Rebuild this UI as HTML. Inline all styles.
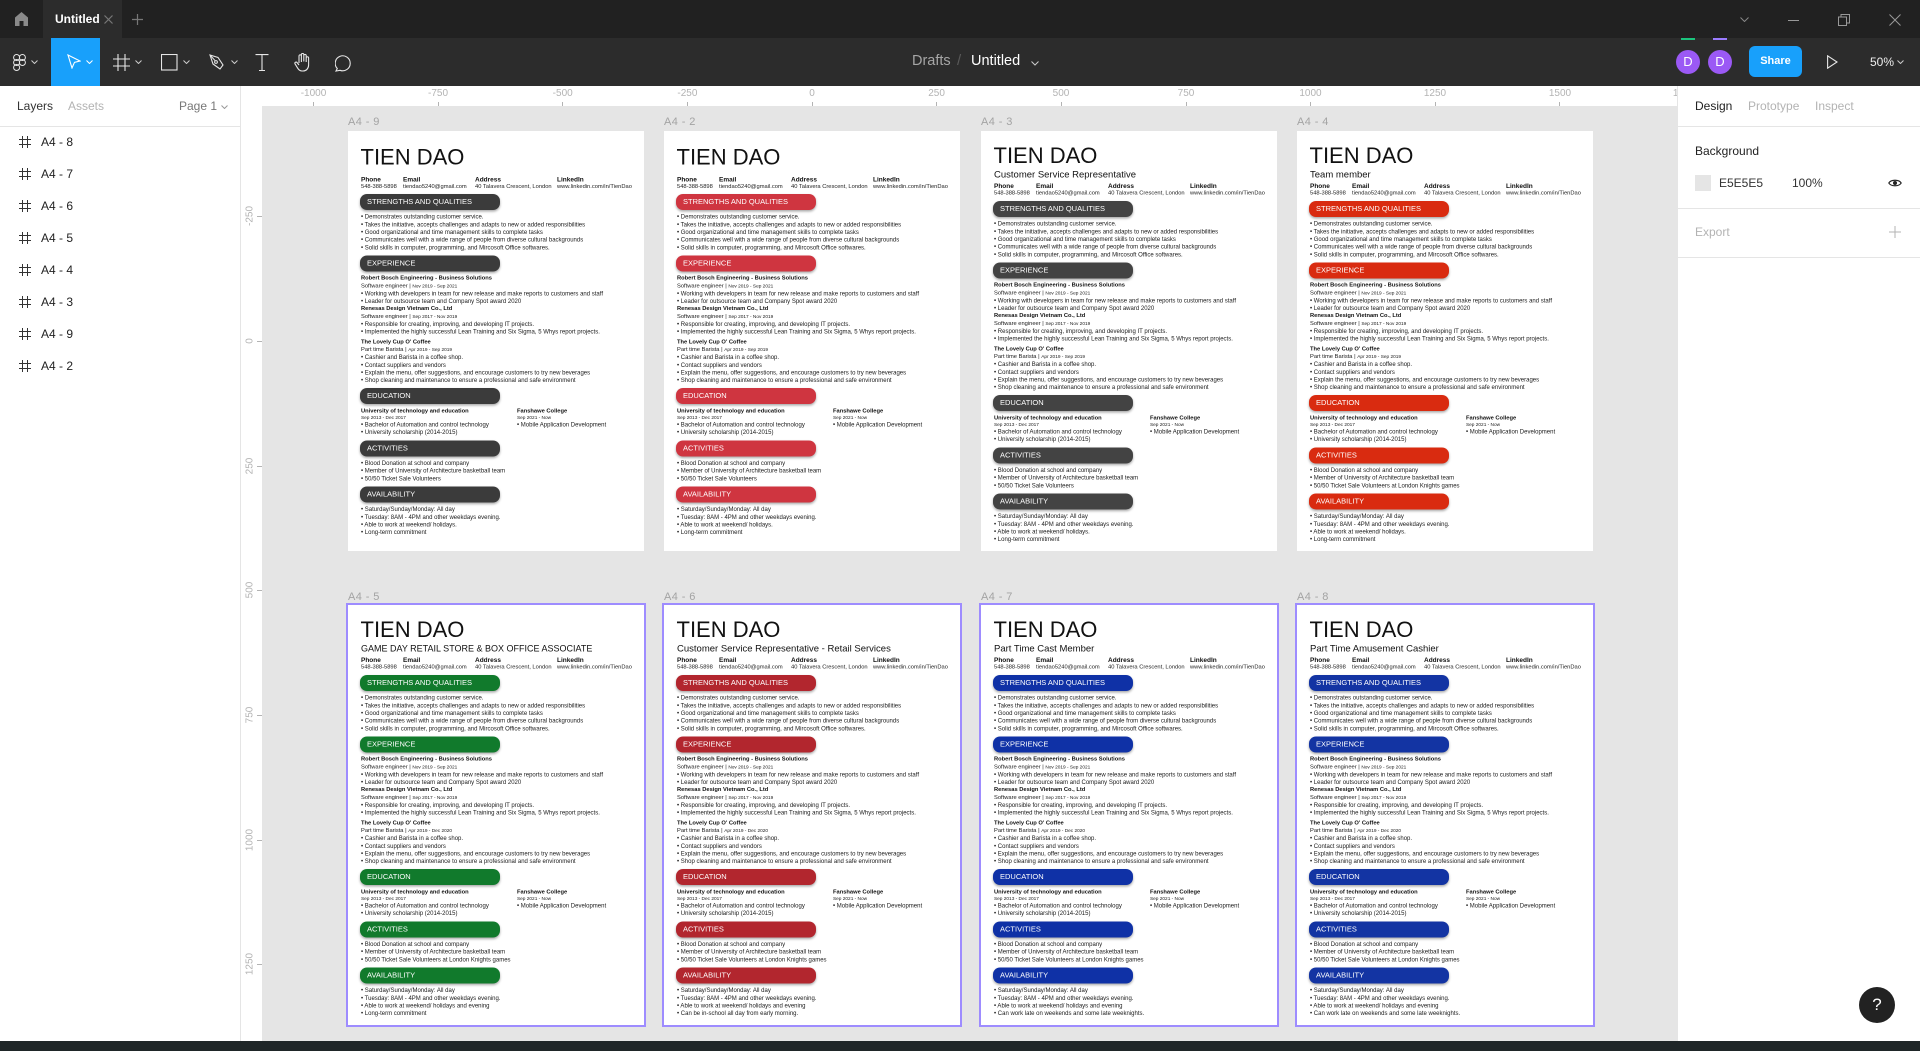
<!DOCTYPE html>
<html><head><meta charset="utf-8"><style>
*{margin:0;padding:0;box-sizing:border-box}
body{width:1920px;height:1051px;overflow:hidden;position:relative;background:#e5e5e5;font-family:"Liberation Sans",Arial,sans-serif}
.a{position:absolute}
.nw{white-space:nowrap}
#tabbar{left:0;top:0;width:1920px;height:38px;background:#212121}
#toolbar{left:0;top:38px;width:1920px;height:48px;background:#2c2c2c}
#left{left:0;top:86px;width:241px;height:955px;background:#fff;border-right:1px solid #e5e5e5}
#right{left:1677px;top:86px;width:243px;height:955px;background:#fff;border-left:1px solid #e5e5e5}
#hr{left:241px;top:86px;width:1436px;height:20px;background:#fff;overflow:hidden}
#vr{left:241px;top:86px;width:21px;height:955px;background:#fff;overflow:hidden}
.hl{position:absolute;top:2px;font-size:10px;color:#b3b3b3;transform:translateX(-50%);white-space:nowrap}
.ht{position:absolute;top:16px;width:1px;height:4px;background:#b3b3b3}
.vl{position:absolute;left:8.5px;font-size:10px;color:#b3b3b3;transform:translate(-50%,-50%) rotate(-90deg);white-space:nowrap}
.vt{position:absolute;left:16px;width:5px;height:1px;background:#b3b3b3}
.lay{position:absolute;left:0;width:240px;height:20px}
.lay svg{position:absolute;left:19px;top:4px}
.lay span{position:absolute;left:41px;top:3px;font-size:12px;color:#222}
.flab{position:absolute;font-size:11px;color:#a3a3a3;letter-spacing:.4px;white-space:nowrap;line-height:14px}
/* resume */
.fr{position:absolute;width:296px;height:420px;background:#fff;overflow:hidden}
.sel{outline:2px solid #9e8cff}
.in{position:absolute;left:0;top:0;width:592px;height:840px;transform:scale(.5);transform-origin:0 0;color:#1a1a1a}
.t{position:absolute;left:25px;top:30.7px;font-size:44px;line-height:44px;color:#111;white-space:nowrap}
.sb .t{top:27.7px}
.st{position:absolute;left:26px;top:78px;font-size:19px;line-height:19px;white-space:nowrap;color:#111}
.c{position:absolute;left:0;top:88.5px;width:592px}
.sb .c{top:101.5px}
.c div{position:absolute;top:0;font-size:11.5px;line-height:15px;white-space:nowrap;color:#222}
.c b{display:block;font-size:13px;color:#111}
.bd{position:absolute;left:26px;top:126px;width:566px}
.sb .bd{top:140px}
.p{margin:8px 0 6.4px -2px;width:280px;height:32px;border-radius:14px;background:var(--c);color:#fff;font-size:15px;line-height:32px;padding-left:14px;box-shadow:0 3px 5px rgba(0,0,0,.35);white-space:nowrap}
.bd>.p:first-child{margin-top:0}
.l{font-size:12px;line-height:15.3px;white-space:nowrap}
.h{font-size:11.5px;font-weight:bold;line-height:15.3px;white-space:nowrap;color:#111}
.j{font-size:11.5px;line-height:15.3px;white-space:nowrap}
.j small{font-size:9.5px}
.d{font-size:9.5px;line-height:12px;white-space:nowrap}
.ed{display:flex}
.ed>div:first-child{width:312px}
.mt{margin-top:5px}
</style></head><body>

<!-- tab bar -->
<div id="tabbar" class="a">
  <svg class="a" style="left:15px;top:12px" width="13" height="14"><path d="M6.5 0 L13 5.5 V14 H8.5 V9 H4.5 V14 H0 V5.5 Z" fill="#8a8a8a"/></svg>
  <div class="a" style="left:43px;top:0;width:79px;height:38px;background:#2c2c2c"></div>
  <div class="a nw" style="left:55px;top:12px;font-size:12px;font-weight:bold;color:#fff">Untitled</div>
  <svg class="a" style="left:104px;top:15px" width="9" height="9"><path d="M0.5 0.5L8.5 8.5M8.5 0.5L0.5 8.5" stroke="#777" stroke-width="1.2"/></svg>
  <svg class="a" style="left:132px;top:14px" width="11" height="11"><path d="M5.5 0V11M0 5.5H11" stroke="#777" stroke-width="1.2"/></svg>
  <svg class="a" style="left:1740px;top:17px" width="9" height="5"><path d="M0.5 0.5L4.5 4.5L8.5 0.5" stroke="#888" fill="none"/></svg>
  <div class="a" style="left:1788px;top:20px;width:11px;height:1px;background:#999"></div>
  <svg class="a" style="left:1838px;top:14px" width="12" height="12"><rect x="0.5" y="3" width="8" height="8.5" fill="none" stroke="#999"/><path d="M3 3V0.5H11.5V9H8.5" fill="none" stroke="#999"/></svg>
  <svg class="a" style="left:1889px;top:14px" width="12" height="12"><path d="M0.5 0.5L11.5 11.5M11.5 0.5L0.5 11.5" stroke="#999"/></svg>
</div>

<!-- toolbar -->
<div id="toolbar" class="a">
  <svg class="a" style="left:13px;top:16px" width="13" height="17"><g fill="none" stroke="#e6e6e6" stroke-width="1"><circle cx="3.6" cy="3.5" r="3"/><circle cx="9.4" cy="3.5" r="3"/><circle cx="3.6" cy="8.5" r="3"/><circle cx="9.4" cy="8.5" r="3"/><circle cx="3.6" cy="13.5" r="3"/></g></svg>
  <svg class="a" style="left:31px;top:22px" width="7" height="4"><path d="M0.5 0.5L3.5 3.5L6.5 0.5" stroke="#ccc" fill="none"/></svg>
  <div class="a" style="left:51px;top:0;width:49px;height:48px;background:#18a0fb"></div>
  <svg class="a" style="left:67px;top:16px" width="14" height="15"><path d="M1 1L13 7L7.5 8.3L5 14Z" fill="none" stroke="#fff" stroke-width="1.1"/></svg>
  <svg class="a" style="left:86px;top:22px" width="7" height="4"><path d="M0.5 0.5L3.5 3.5L6.5 0.5" stroke="#fff" fill="none"/></svg>
  <svg class="a" style="left:113px;top:16px" width="17" height="17"><path d="M5 0V17M12 0V17M0 5H17M0 12H17" stroke="#e6e6e6" stroke-width="1.1"/></svg>
  <svg class="a" style="left:135px;top:22px" width="7" height="4"><path d="M0.5 0.5L3.5 3.5L6.5 0.5" stroke="#ccc" fill="none"/></svg>
  <svg class="a" style="left:161px;top:16px" width="17" height="17"><rect x="0.5" y="0.5" width="15.5" height="15.5" fill="none" stroke="#e6e6e6" stroke-width="1.1"/></svg>
  <svg class="a" style="left:183px;top:22px" width="7" height="4"><path d="M0.5 0.5L3.5 3.5L6.5 0.5" stroke="#ccc" fill="none"/></svg>
  <svg class="a" style="left:209px;top:16px" width="16" height="17"><path d="M1 1L9 3.5L14 11L11 15L4 10Z" fill="none" stroke="#e6e6e6" stroke-width="1.1"/><circle cx="7" cy="8" r="1.4" fill="none" stroke="#e6e6e6"/><path d="M1 1L6 6.6" stroke="#e6e6e6"/></svg>
  <svg class="a" style="left:231px;top:22px" width="7" height="4"><path d="M0.5 0.5L3.5 3.5L6.5 0.5" stroke="#ccc" fill="none"/></svg>
  <svg class="a" style="left:255px;top:16px" width="14" height="17"><path d="M0.5 0.6H13.5M7 0.6V16.5M4 16.5H10" stroke="#e6e6e6" stroke-width="1.1" fill="none"/></svg>
  <svg class="a" style="left:294px;top:15px" width="18" height="19"><path d="M5 10V3a1.2 1.2 0 0 1 2.4 0V9M7.4 8.5V1.6a1.2 1.2 0 0 1 2.4 0V8.5M9.8 8.5V2.6a1.2 1.2 0 0 1 2.4 0V9M12.2 9V5a1.2 1.2 0 0 1 2.4 0v7c0 3.5-2.4 6-5.6 6H8c-2 0-3.2-1-4.3-2.8L1 10.8a1.2 1.2 0 0 1 2-1.3L5 12" stroke="#e6e6e6" fill="none" stroke-width="1.1"/></svg>
  <svg class="a" style="left:335px;top:16px" width="18" height="18"><path d="M2.3 14.5A7.5 7.5 0 1 1 5 16.3L1 17Z" fill="none" stroke="#e6e6e6" stroke-width="1.1"/></svg>

  <div class="a nw" style="left:912px;top:15px;font-size:14.5px;color:#a6a6a6">Drafts</div>
  <div class="a nw" style="left:957px;top:14px;font-size:15px;color:#5a5a5a">/</div>
  <div class="a nw" style="left:971px;top:15px;font-size:14.5px;color:#fff">Untitled</div>
  <svg class="a" style="left:1031px;top:23px" width="8" height="5"><path d="M0.5 0.5L4 4L7.5 0.5" stroke="#ccc" fill="none"/></svg>

  <div class="a" style="left:1681px;top:0;width:14px;height:2px;background:#1bc47d"></div>
  <div class="a" style="left:1713px;top:0;width:14px;height:2px;background:#9b7cff"></div>
  <div class="a" style="left:1676px;top:11.5px;width:24px;height:24px;border-radius:50%;background:#9b59f5;color:#fff;font-size:13px;line-height:24px;text-align:center">D</div>
  <div class="a" style="left:1708px;top:11.5px;width:24px;height:24px;border-radius:50%;background:#9b59f5;color:#fff;font-size:13px;line-height:24px;text-align:center">D</div>
  <div class="a" style="left:1749px;top:8px;width:53px;height:31px;border-radius:6px;background:#18a0fb;color:#fff;font-size:11px;font-weight:bold;line-height:31px;text-align:center">Share</div>
  <svg class="a" style="left:1827px;top:17px" width="11" height="14"><path d="M0.6 0.8L10 7L0.6 13.2Z" fill="none" stroke="#e6e6e6" stroke-width="1.1"/></svg>
  <div class="a nw" style="left:1870px;top:17px;font-size:12px;color:#eee">50%</div>
  <svg class="a" style="left:1897px;top:22px" width="7" height="4"><path d="M0.5 0.5L3.5 3.5L6.5 0.5" stroke="#ccc" fill="none"/></svg>
</div>

<!-- left panel -->
<div id="left" class="a">
  <div class="a nw" style="left:17px;top:13px;font-size:12px;color:#333">Layers</div>
  <div class="a nw" style="left:68px;top:13px;font-size:12px;color:#b3b3b3">Assets</div>
  <div class="a nw" style="left:179px;top:13px;font-size:12px;color:#777">Page 1</div>
  <svg class="a" style="left:221px;top:19px" width="7" height="4"><path d="M0.5 0.5L3.5 3.5L6.5 0.5" stroke="#999" fill="none"/></svg>
  <div class="a" style="left:0;top:40px;width:240px;height:1px;background:#e5e5e5"></div>
</div>
<div class="a" style="left:0;top:0">
  <div class="lay" style="top:132px"><svg width="12" height="12"><path d="M3.5 0V12M8.5 0V12M0 3.5H12M0 8.5H12" stroke="#333"/></svg><span>A4 - 8</span></div>
  <div class="lay" style="top:164px"><svg width="12" height="12"><path d="M3.5 0V12M8.5 0V12M0 3.5H12M0 8.5H12" stroke="#333"/></svg><span>A4 - 7</span></div>
  <div class="lay" style="top:196px"><svg width="12" height="12"><path d="M3.5 0V12M8.5 0V12M0 3.5H12M0 8.5H12" stroke="#333"/></svg><span>A4 - 6</span></div>
  <div class="lay" style="top:228px"><svg width="12" height="12"><path d="M3.5 0V12M8.5 0V12M0 3.5H12M0 8.5H12" stroke="#333"/></svg><span>A4 - 5</span></div>
  <div class="lay" style="top:260px"><svg width="12" height="12"><path d="M3.5 0V12M8.5 0V12M0 3.5H12M0 8.5H12" stroke="#333"/></svg><span>A4 - 4</span></div>
  <div class="lay" style="top:292px"><svg width="12" height="12"><path d="M3.5 0V12M8.5 0V12M0 3.5H12M0 8.5H12" stroke="#333"/></svg><span>A4 - 3</span></div>
  <div class="lay" style="top:324px"><svg width="12" height="12"><path d="M3.5 0V12M8.5 0V12M0 3.5H12M0 8.5H12" stroke="#333"/></svg><span>A4 - 9</span></div>
  <div class="lay" style="top:356px"><svg width="12" height="12"><path d="M3.5 0V12M8.5 0V12M0 3.5H12M0 8.5H12" stroke="#333"/></svg><span>A4 - 2</span></div>
</div>

<!-- rulers -->
<div id="vr" class="a">
  <span class="vl" style="top:130.4px">-250</span><div class="vt" style="top:130px"></div>
  <span class="vl" style="top:255px">0</span><div class="vt" style="top:255px"></div>
  <span class="vl" style="top:379.6px">250</span><div class="vt" style="top:379.5px"></div>
  <span class="vl" style="top:504px">500</span><div class="vt" style="top:504px"></div>
  <span class="vl" style="top:629px">750</span><div class="vt" style="top:629px"></div>
  <span class="vl" style="top:753.5px">1000</span><div class="vt" style="top:753.5px"></div>
  <span class="vl" style="top:878px">1250</span><div class="vt" style="top:878px"></div>
</div>
<div id="hr" class="a">
  <span class="hl" style="left:72.5px">-1000</span><div class="ht" style="left:72px"></div>
  <span class="hl" style="left:197px">-750</span><div class="ht" style="left:197px"></div>
  <span class="hl" style="left:321.7px">-500</span><div class="ht" style="left:321px"></div>
  <span class="hl" style="left:446.4px">-250</span><div class="ht" style="left:446px"></div>
  <span class="hl" style="left:571px">0</span><div class="ht" style="left:571px"></div>
  <span class="hl" style="left:695.6px">250</span><div class="ht" style="left:695px"></div>
  <span class="hl" style="left:820px">500</span><div class="ht" style="left:820px"></div>
  <span class="hl" style="left:945px">750</span><div class="ht" style="left:945px"></div>
  <span class="hl" style="left:1069.5px">1000</span><div class="ht" style="left:1069px"></div>
  <span class="hl" style="left:1194px">1250</span><div class="ht" style="left:1194px"></div>
  <span class="hl" style="left:1319px">1500</span><div class="ht" style="left:1318px"></div>
  <span class="hl" style="left:1443px">1750</span>
</div>

<!-- frame labels -->
<div class="flab" style="left:348px;top:115px">A4 - 9</div>
<div class="flab" style="left:664px;top:115px">A4 - 2</div>
<div class="flab" style="left:981px;top:115px">A4 - 3</div>
<div class="flab" style="left:1297px;top:115px">A4 - 4</div>
<div class="flab" style="left:348px;top:590px">A4 - 5</div>
<div class="flab" style="left:664px;top:590px">A4 - 6</div>
<div class="flab" style="left:981px;top:590px">A4 - 7</div>
<div class="flab" style="left:1297px;top:590px">A4 - 8</div>

<!-- A4-9 -->
<div class="fr" style="left:348px;top:131px;--c:#3b3b3b"><div class="in">
<div class="t">TIEN DAO</div>
<div class="c"><div style="left:26px"><b>Phone</b>548-388-5898</div><div style="left:110px"><b>Email</b>tiendao5240@gmail.com</div><div style="left:254px"><b>Address</b>40 Talavera Crescent, London</div><div style="left:418px"><b>LinkedIn</b>www.linkedin.com/in/TienDao</div></div>
<div class="bd">
<div class="p">STRENGTHS AND QUALITIES</div>
<div class="l">• Demonstrates outstanding customer service.</div>
<div class="l">• Takes the initiative, accepts challenges and adapts to new or added responsibilities</div>
<div class="l">• Good organizational and time management skills to complete tasks</div>
<div class="l">• Communicates well with a wide range of people from diverse cultural backgrounds</div>
<div class="l">• Solid skills in computer, programming, and Mircosoft Office softwares.</div>
<div class="p">EXPERIENCE</div>
<div class="h">Robert Bosch Engineering - Business Solutions</div>
<div class="j">Software engineer | <small>Nov 2019 - Sep 2021</small></div>
<div class="l">• Working with developers in team for new release and make reports to customers and staff</div>
<div class="l">• Leader for outsource team and Company Spot award 2020</div>
<div class="h">Renesas Design Vietnam Co., Ltd</div>
<div class="j">Software engineer | <small>Sep 2017 - Nov 2019</small></div>
<div class="l">• Responsible for creating, improving, and developing IT projects.</div>
<div class="l">• Implemented the highly successful Lean Training and Six Sigma, 5 Whys report projects.</div>
<div class="h mt">The Lovely Cup O' Coffee</div>
<div class="j">Part time Barista | <small>Apr 2019 - Sep 2019</small></div>
<div class="l">• Cashier and Barista in a coffee shop.</div>
<div class="l">• Contact suppliers and vendors</div>
<div class="l">• Explain the menu, offer suggestions, and encourage customers to try new beverages</div>
<div class="l">• Shop cleaning and maintenance to ensure a professional and safe environment</div>
<div class="p">EDUCATION</div>
<div class="ed"><div><div class="h">University of technology and education</div><div class="d">Sep 2013 - Dec 2017</div><div class="l">• Bachelor of Automation and control technology</div><div class="l">• University scholarship (2014-2015)</div></div><div><div class="h">Fanshawe College</div><div class="d">Sep 2021 - Now</div><div class="l">• Mobile Application Development</div></div></div>
<div class="p">ACTIVITIES</div>
<div class="l">• Blood Donation at school and company</div>
<div class="l">• Member of University of Architecture basketball team</div>
<div class="l">• 50/50 Ticket Sale Volunteers</div>
<div class="p">AVAILABILITY</div>
<div class="l">• Saturday/Sunday/Monday: All day</div>
<div class="l">• Tuesday: 8AM - 4PM and other weekdays evening.</div>
<div class="l">• Able to work at weekend/ holidays.</div>
<div class="l">• Long-term commitment</div>
</div></div></div>

<!-- A4-2 -->
<div class="fr" style="left:664px;top:131px;--c:#cf3540"><div class="in">
<div class="t">TIEN DAO</div>
<div class="c"><div style="left:26px"><b>Phone</b>548-388-5898</div><div style="left:110px"><b>Email</b>tiendao5240@gmail.com</div><div style="left:254px"><b>Address</b>40 Talavera Crescent, London</div><div style="left:418px"><b>LinkedIn</b>www.linkedin.com/in/TienDao</div></div>
<div class="bd">
<div class="p">STRENGTHS AND QUALITIES</div>
<div class="l">• Demonstrates outstanding customer service.</div>
<div class="l">• Takes the initiative, accepts challenges and adapts to new or added responsibilities</div>
<div class="l">• Good organizational and time management skills to complete tasks</div>
<div class="l">• Communicates well with a wide range of people from diverse cultural backgrounds</div>
<div class="l">• Solid skills in computer, programming, and Mircosoft Office softwares.</div>
<div class="p">EXPERIENCE</div>
<div class="h">Robert Bosch Engineering - Business Solutions</div>
<div class="j">Software engineer | <small>Nov 2019 - Sep 2021</small></div>
<div class="l">• Working with developers in team for new release and make reports to customers and staff</div>
<div class="l">• Leader for outsource team and Company Spot award 2020</div>
<div class="h">Renesas Design Vietnam Co., Ltd</div>
<div class="j">Software engineer | <small>Sep 2017 - Nov 2019</small></div>
<div class="l">• Responsible for creating, improving, and developing IT projects.</div>
<div class="l">• Implemented the highly successful Lean Training and Six Sigma, 5 Whys report projects.</div>
<div class="h mt">The Lovely Cup O' Coffee</div>
<div class="j">Part time Barista | <small>Apr 2019 - Sep 2019</small></div>
<div class="l">• Cashier and Barista in a coffee shop.</div>
<div class="l">• Contact suppliers and vendors</div>
<div class="l">• Explain the menu, offer suggestions, and encourage customers to try new beverages</div>
<div class="l">• Shop cleaning and maintenance to ensure a professional and safe environment</div>
<div class="p">EDUCATION</div>
<div class="ed"><div><div class="h">University of technology and education</div><div class="d">Sep 2013 - Dec 2017</div><div class="l">• Bachelor of Automation and control technology</div><div class="l">• University scholarship (2014-2015)</div></div><div><div class="h">Fanshawe College</div><div class="d">Sep 2021 - Now</div><div class="l">• Mobile Application Development</div></div></div>
<div class="p">ACTIVITIES</div>
<div class="l">• Blood Donation at school and company</div>
<div class="l">• Member of University of Architecture basketball team</div>
<div class="l">• 50/50 Ticket Sale Volunteers</div>
<div class="p">AVAILABILITY</div>
<div class="l">• Saturday/Sunday/Monday: All day</div>
<div class="l">• Tuesday: 8AM - 4PM and other weekdays evening.</div>
<div class="l">• Able to work at weekend/ holidays.</div>
<div class="l">• Long-term commitment</div>
</div></div></div>

<!-- A4-3 -->
<div class="fr sb" style="left:981px;top:131px;--c:#434343"><div class="in">
<div class="t">TIEN DAO</div>
<div class="st">Customer Service Representative</div>
<div class="c"><div style="left:26px"><b>Phone</b>548-388-5898</div><div style="left:110px"><b>Email</b>tiendao5240@gmail.com</div><div style="left:254px"><b>Address</b>40 Talavera Crescent, London</div><div style="left:418px"><b>LinkedIn</b>www.linkedin.com/in/TienDao</div></div>
<div class="bd">
<div class="p">STRENGTHS AND QUALITIES</div>
<div class="l">• Demonstrates outstanding customer service.</div>
<div class="l">• Takes the initiative, accepts challenges and adapts to new or added responsibilities</div>
<div class="l">• Good organizational and time management skills to complete tasks</div>
<div class="l">• Communicates well with a wide range of people from diverse cultural backgrounds</div>
<div class="l">• Solid skills in computer, programming, and Mircosoft Office softwares.</div>
<div class="p">EXPERIENCE</div>
<div class="h">Robert Bosch Engineering - Business Solutions</div>
<div class="j">Software engineer | <small>Nov 2019 - Sep 2021</small></div>
<div class="l">• Working with developers in team for new release and make reports to customers and staff</div>
<div class="l">• Leader for outsource team and Company Spot award 2020</div>
<div class="h">Renesas Design Vietnam Co., Ltd</div>
<div class="j">Software engineer | <small>Sep 2017 - Nov 2019</small></div>
<div class="l">• Responsible for creating, improving, and developing IT projects.</div>
<div class="l">• Implemented the highly successful Lean Training and Six Sigma, 5 Whys report projects.</div>
<div class="h mt">The Lovely Cup O' Coffee</div>
<div class="j">Part time Barista | <small>Apr 2019 - Sep 2019</small></div>
<div class="l">• Cashier and Barista in a coffee shop.</div>
<div class="l">• Contact suppliers and vendors</div>
<div class="l">• Explain the menu, offer suggestions, and encourage customers to try new beverages</div>
<div class="l">• Shop cleaning and maintenance to ensure a professional and safe environment</div>
<div class="p">EDUCATION</div>
<div class="ed"><div><div class="h">University of technology and education</div><div class="d">Sep 2013 - Dec 2017</div><div class="l">• Bachelor of Automation and control technology</div><div class="l">• University scholarship (2014-2015)</div></div><div><div class="h">Fanshawe College</div><div class="d">Sep 2021 - Now</div><div class="l">• Mobile Application Development</div></div></div>
<div class="p">ACTIVITIES</div>
<div class="l">• Blood Donation at school and company</div>
<div class="l">• Member of University of Architecture basketball team</div>
<div class="l">• 50/50 Ticket Sale Volunteers</div>
<div class="p">AVAILABILITY</div>
<div class="l">• Saturday/Sunday/Monday: All day</div>
<div class="l">• Tuesday: 8AM - 4PM and other weekdays evening.</div>
<div class="l">• Able to work at weekend/ holidays.</div>
<div class="l">• Long-term commitment</div>
</div></div></div>

<!-- A4-4 -->
<div class="fr sb" style="left:1297px;top:131px;--c:#d92b10"><div class="in">
<div class="t">TIEN DAO</div>
<div class="st">Team member</div>
<div class="c"><div style="left:26px"><b>Phone</b>548-388-5898</div><div style="left:110px"><b>Email</b>tiendao5240@gmail.com</div><div style="left:254px"><b>Address</b>40 Talavera Crescent, London</div><div style="left:418px"><b>LinkedIn</b>www.linkedin.com/in/TienDao</div></div>
<div class="bd">
<div class="p">STRENGTHS AND QUALITIES</div>
<div class="l">• Demonstrates outstanding customer service.</div>
<div class="l">• Takes the initiative, accepts challenges and adapts to new or added responsibilities</div>
<div class="l">• Good organizational and time management skills to complete tasks</div>
<div class="l">• Communicates well with a wide range of people from diverse cultural backgrounds</div>
<div class="l">• Solid skills in computer, programming, and Mircosoft Office softwares.</div>
<div class="p">EXPERIENCE</div>
<div class="h">Robert Bosch Engineering - Business Solutions</div>
<div class="j">Software engineer | <small>Nov 2019 - Sep 2021</small></div>
<div class="l">• Working with developers in team for new release and make reports to customers and staff</div>
<div class="l">• Leader for outsource team and Company Spot award 2020</div>
<div class="h">Renesas Design Vietnam Co., Ltd</div>
<div class="j">Software engineer | <small>Sep 2017 - Nov 2019</small></div>
<div class="l">• Responsible for creating, improving, and developing IT projects.</div>
<div class="l">• Implemented the highly successful Lean Training and Six Sigma, 5 Whys report projects.</div>
<div class="h mt">The Lovely Cup O' Coffee</div>
<div class="j">Part time Barista | <small>Apr 2019 - Sep 2019</small></div>
<div class="l">• Cashier and Barista in a coffee shop.</div>
<div class="l">• Contact suppliers and vendors</div>
<div class="l">• Explain the menu, offer suggestions, and encourage customers to try new beverages</div>
<div class="l">• Shop cleaning and maintenance to ensure a professional and safe environment</div>
<div class="p">EDUCATION</div>
<div class="ed"><div><div class="h">University of technology and education</div><div class="d">Sep 2013 - Dec 2017</div><div class="l">• Bachelor of Automation and control technology</div><div class="l">• University scholarship (2014-2015)</div></div><div><div class="h">Fanshawe College</div><div class="d">Sep 2021 - Now</div><div class="l">• Mobile Application Development</div></div></div>
<div class="p">ACTIVITIES</div>
<div class="l">• Blood Donation at school and company</div>
<div class="l">• Member of University of Architecture basketball team</div>
<div class="l">• 50/50 Ticket Sale Volunteers at London Knights games</div>
<div class="p">AVAILABILITY</div>
<div class="l">• Saturday/Sunday/Monday: All day</div>
<div class="l">• Tuesday: 8AM - 4PM and other weekdays evening.</div>
<div class="l">• Able to work at weekend/ holidays.</div>
<div class="l">• Long-term commitment</div>
</div></div></div>

<!-- A4-5 -->
<div class="fr sb sel" style="left:348px;top:605px;--c:#117a2c"><div class="in">
<div class="t">TIEN DAO</div>
<div class="st" style="font-size:18px">GAME DAY RETAIL STORE &amp; BOX OFFICE ASSOCIATE</div>
<div class="c"><div style="left:26px"><b>Phone</b>548-388-5898</div><div style="left:110px"><b>Email</b>tiendao5240@gmail.com</div><div style="left:254px"><b>Address</b>40 Talavera Crescent, London</div><div style="left:418px"><b>LinkedIn</b>www.linkedin.com/in/TienDao</div></div>
<div class="bd">
<div class="p">STRENGTHS AND QUALITIES</div>
<div class="l">• Demonstrates outstanding customer service.</div>
<div class="l">• Takes the initiative, accepts challenges and adapts to new or added responsibilities</div>
<div class="l">• Good organizational and time management skills to complete tasks</div>
<div class="l">• Communicates well with a wide range of people from diverse cultural backgrounds</div>
<div class="l">• Solid skills in computer, programming, and Mircosoft Office softwares.</div>
<div class="p">EXPERIENCE</div>
<div class="h">Robert Bosch Engineering - Business Solutions</div>
<div class="j">Software engineer | <small>Nov 2019 - Sep 2021</small></div>
<div class="l">• Working with developers in team for new release and make reports to customers and staff</div>
<div class="l">• Leader for outsource team and Company Spot award 2020</div>
<div class="h">Renesas Design Vietnam Co., Ltd</div>
<div class="j">Software engineer | <small>Sep 2017 - Nov 2019</small></div>
<div class="l">• Responsible for creating, improving, and developing IT projects.</div>
<div class="l">• Implemented the highly successful Lean Training and Six Sigma, 5 Whys report projects.</div>
<div class="h mt">The Lovely Cup O' Coffee</div>
<div class="j">Part time Barista | <small>Apr 2019 - Dec 2020</small></div>
<div class="l">• Cashier and Barista in a coffee shop.</div>
<div class="l">• Contact suppliers and vendors</div>
<div class="l">• Explain the menu, offer suggestions, and encourage customers to try new beverages</div>
<div class="l">• Shop cleaning and maintenance to ensure a professional and safe environment</div>
<div class="p">EDUCATION</div>
<div class="ed"><div><div class="h">University of technology and education</div><div class="d">Sep 2013 - Dec 2017</div><div class="l">• Bachelor of Automation and control technology</div><div class="l">• University scholarship (2014-2015)</div></div><div><div class="h">Fanshawe College</div><div class="d">Sep 2021 - Now</div><div class="l">• Mobile Application Development</div></div></div>
<div class="p">ACTIVITIES</div>
<div class="l">• Blood Donation at school and company</div>
<div class="l">• Member of University of Architecture basketball team</div>
<div class="l">• 50/50 Ticket Sale Volunteers at London Knights games</div>
<div class="p">AVAILABILITY</div>
<div class="l">• Saturday/Sunday/Monday: All day</div>
<div class="l">• Tuesday: 8AM - 4PM and other weekdays evening.</div>
<div class="l">• Able to work at weekend/ holidays and evening</div>
<div class="l">• Long-term commitment</div>
</div></div></div>

<!-- A4-6 -->
<div class="fr sb sel" style="left:664px;top:605px;--c:#b2262e"><div class="in">
<div class="t">TIEN DAO</div>
<div class="st">Customer Service Representative - Retail Services</div>
<div class="c"><div style="left:26px"><b>Phone</b>548-388-5898</div><div style="left:110px"><b>Email</b>tiendao5240@gmail.com</div><div style="left:254px"><b>Address</b>40 Talavera Crescent, London</div><div style="left:418px"><b>LinkedIn</b>www.linkedin.com/in/TienDao</div></div>
<div class="bd">
<div class="p">STRENGTHS AND QUALITIES</div>
<div class="l">• Demonstrates outstanding customer service.</div>
<div class="l">• Takes the initiative, accepts challenges and adapts to new or added responsibilities</div>
<div class="l">• Good organizational and time management skills to complete tasks</div>
<div class="l">• Communicates well with a wide range of people from diverse cultural backgrounds</div>
<div class="l">• Solid skills in computer, programming, and Mircosoft Office softwares.</div>
<div class="p">EXPERIENCE</div>
<div class="h">Robert Bosch Engineering - Business Solutions</div>
<div class="j">Software engineer | <small>Nov 2019 - Sep 2021</small></div>
<div class="l">• Working with developers in team for new release and make reports to customers and staff</div>
<div class="l">• Leader for outsource team and Company Spot award 2020</div>
<div class="h">Renesas Design Vietnam Co., Ltd</div>
<div class="j">Software engineer | <small>Sep 2017 - Nov 2019</small></div>
<div class="l">• Responsible for creating, improving, and developing IT projects.</div>
<div class="l">• Implemented the highly successful Lean Training and Six Sigma, 5 Whys report projects.</div>
<div class="h mt">The Lovely Cup O' Coffee</div>
<div class="j">Part time Barista | <small>Apr 2019 - Dec 2020</small></div>
<div class="l">• Cashier and Barista in a coffee shop.</div>
<div class="l">• Contact suppliers and vendors</div>
<div class="l">• Explain the menu, offer suggestions, and encourage customers to try new beverages</div>
<div class="l">• Shop cleaning and maintenance to ensure a professional and safe environment</div>
<div class="p">EDUCATION</div>
<div class="ed"><div><div class="h">University of technology and education</div><div class="d">Sep 2013 - Dec 2017</div><div class="l">• Bachelor of Automation and control technology</div><div class="l">• University scholarship (2014-2015)</div></div><div><div class="h">Fanshawe College</div><div class="d">Sep 2021 - Now</div><div class="l">• Mobile Application Development</div></div></div>
<div class="p">ACTIVITIES</div>
<div class="l">• Blood Donation at school and company</div>
<div class="l">• Member of University of Architecture basketball team</div>
<div class="l">• 50/50 Ticket Sale Volunteers at London Knights games</div>
<div class="p">AVAILABILITY</div>
<div class="l">• Saturday/Sunday/Monday: All day</div>
<div class="l">• Tuesday: 8AM - 4PM and other weekdays evening.</div>
<div class="l">• Able to work at weekend/ holidays and evening</div>
<div class="l">• Can be in-school all day from early morning.</div>
</div></div></div>

<!-- A4-7 -->
<div class="fr sb sel" style="left:981px;top:605px;--c:#0f31a6"><div class="in">
<div class="t">TIEN DAO</div>
<div class="st">Part Time Cast Member</div>
<div class="c"><div style="left:26px"><b>Phone</b>548-388-5898</div><div style="left:110px"><b>Email</b>tiendao5240@gmail.com</div><div style="left:254px"><b>Address</b>40 Talavera Crescent, London</div><div style="left:418px"><b>LinkedIn</b>www.linkedin.com/in/TienDao</div></div>
<div class="bd">
<div class="p">STRENGTHS AND QUALITIES</div>
<div class="l">• Demonstrates outstanding customer service.</div>
<div class="l">• Takes the initiative, accepts challenges and adapts to new or added responsibilities</div>
<div class="l">• Good organizational and time management skills to complete tasks</div>
<div class="l">• Communicates well with a wide range of people from diverse cultural backgrounds</div>
<div class="l">• Solid skills in computer, programming, and Mircosoft Office softwares.</div>
<div class="p">EXPERIENCE</div>
<div class="h">Robert Bosch Engineering - Business Solutions</div>
<div class="j">Software engineer | <small>Nov 2019 - Sep 2021</small></div>
<div class="l">• Working with developers in team for new release and make reports to customers and staff</div>
<div class="l">• Leader for outsource team and Company Spot award 2020</div>
<div class="h">Renesas Design Vietnam Co., Ltd</div>
<div class="j">Software engineer | <small>Sep 2017 - Nov 2019</small></div>
<div class="l">• Responsible for creating, improving, and developing IT projects.</div>
<div class="l">• Implemented the highly successful Lean Training and Six Sigma, 5 Whys report projects.</div>
<div class="h mt">The Lovely Cup O' Coffee</div>
<div class="j">Part time Barista | <small>Apr 2019 - Dec 2020</small></div>
<div class="l">• Cashier and Barista in a coffee shop.</div>
<div class="l">• Contact suppliers and vendors</div>
<div class="l">• Explain the menu, offer suggestions, and encourage customers to try new beverages</div>
<div class="l">• Shop cleaning and maintenance to ensure a professional and safe environment</div>
<div class="p">EDUCATION</div>
<div class="ed"><div><div class="h">University of technology and education</div><div class="d">Sep 2013 - Dec 2017</div><div class="l">• Bachelor of Automation and control technology</div><div class="l">• University scholarship (2014-2015)</div></div><div><div class="h">Fanshawe College</div><div class="d">Sep 2021 - Now</div><div class="l">• Mobile Application Development</div></div></div>
<div class="p">ACTIVITIES</div>
<div class="l">• Blood Donation at school and company</div>
<div class="l">• Member of University of Architecture basketball team</div>
<div class="l">• 50/50 Ticket Sale Volunteers at London Knights games</div>
<div class="p">AVAILABILITY</div>
<div class="l">• Saturday/Sunday/Monday: All day</div>
<div class="l">• Tuesday: 8AM - 4PM and other weekdays evening.</div>
<div class="l">• Able to work at weekend/ holidays and evening</div>
<div class="l">• Can work late on weekends and some late weeknights.</div>
</div></div></div>

<!-- A4-8 -->
<div class="fr sb sel" style="left:1297px;top:605px;--c:#1334a3"><div class="in">
<div class="t">TIEN DAO</div>
<div class="st">Part Time Amusement Cashier</div>
<div class="c"><div style="left:26px"><b>Phone</b>548-388-5898</div><div style="left:110px"><b>Email</b>tiendao5240@gmail.com</div><div style="left:254px"><b>Address</b>40 Talavera Crescent, London</div><div style="left:418px"><b>LinkedIn</b>www.linkedin.com/in/TienDao</div></div>
<div class="bd">
<div class="p">STRENGTHS AND QUALITIES</div>
<div class="l">• Demonstrates outstanding customer service.</div>
<div class="l">• Takes the initiative, accepts challenges and adapts to new or added responsibilities</div>
<div class="l">• Good organizational and time management skills to complete tasks</div>
<div class="l">• Communicates well with a wide range of people from diverse cultural backgrounds</div>
<div class="l">• Solid skills in computer, programming, and Mircosoft Office softwares.</div>
<div class="p">EXPERIENCE</div>
<div class="h">Robert Bosch Engineering - Business Solutions</div>
<div class="j">Software engineer | <small>Nov 2019 - Sep 2021</small></div>
<div class="l">• Working with developers in team for new release and make reports to customers and staff</div>
<div class="l">• Leader for outsource team and Company Spot award 2020</div>
<div class="h">Renesas Design Vietnam Co., Ltd</div>
<div class="j">Software engineer | <small>Sep 2017 - Nov 2019</small></div>
<div class="l">• Responsible for creating, improving, and developing IT projects.</div>
<div class="l">• Implemented the highly successful Lean Training and Six Sigma, 5 Whys report projects.</div>
<div class="h mt">The Lovely Cup O' Coffee</div>
<div class="j">Part time Barista | <small>Apr 2019 - Dec 2020</small></div>
<div class="l">• Cashier and Barista in a coffee shop.</div>
<div class="l">• Contact suppliers and vendors</div>
<div class="l">• Explain the menu, offer suggestions, and encourage customers to try new beverages</div>
<div class="l">• Shop cleaning and maintenance to ensure a professional and safe environment</div>
<div class="p">EDUCATION</div>
<div class="ed"><div><div class="h">University of technology and education</div><div class="d">Sep 2013 - Dec 2017</div><div class="l">• Bachelor of Automation and control technology</div><div class="l">• University scholarship (2014-2015)</div></div><div><div class="h">Fanshawe College</div><div class="d">Sep 2021 - Now</div><div class="l">• Mobile Application Development</div></div></div>
<div class="p">ACTIVITIES</div>
<div class="l">• Blood Donation at school and company</div>
<div class="l">• Member of University of Architecture basketball team</div>
<div class="l">• 50/50 Ticket Sale Volunteers at London Knights games</div>
<div class="p">AVAILABILITY</div>
<div class="l">• Saturday/Sunday/Monday: All day</div>
<div class="l">• Tuesday: 8AM - 4PM and other weekdays evening.</div>
<div class="l">• Able to work at weekend/ holidays and evening</div>
<div class="l">• Can work late on weekends and some late weeknights.</div>
</div></div></div>

<!-- right panel -->
<div id="right" class="a">
  <div class="a nw" style="left:17px;top:13px;font-size:12px;color:#222">Design</div>
  <div class="a nw" style="left:70px;top:13px;font-size:12px;color:#b3b3b3">Prototype</div>
  <div class="a nw" style="left:137px;top:13px;font-size:12px;color:#b3b3b3">Inspect</div>
  <div class="a" style="left:0;top:40px;width:243px;height:1px;background:#e5e5e5"></div>
  <div class="a nw" style="left:17px;top:58px;font-size:12px;color:#222">Background</div>
  <div class="a" style="left:17px;top:89px;width:16px;height:16px;background:#e5e5e5"></div>
  <div class="a nw" style="left:41px;top:90px;font-size:12px;color:#333">E5E5E5</div>
  <div class="a nw" style="left:114px;top:90px;font-size:12px;color:#333">100%</div>
  <svg class="a" style="left:210px;top:92px" width="14" height="10"><path d="M0.8 5C3 1.3 11 1.3 13.2 5C11 8.7 3 8.7 0.8 5Z" fill="none" stroke="#222" stroke-width="1.2"/><circle cx="7" cy="5" r="2" fill="#222"/></svg>
  <div class="a" style="left:0;top:122px;width:243px;height:1px;background:#e5e5e5"></div>
  <div class="a nw" style="left:17px;top:139px;font-size:12px;color:#b3b3b3">Export</div>
  <svg class="a" style="left:211px;top:140px" width="12" height="12"><path d="M6 0V12M0 6H12" stroke="#b3b3b3"/></svg>
  <div class="a" style="left:0;top:171px;width:243px;height:1px;background:#e5e5e5"></div>
  <div class="a" style="left:181px;top:901px;width:36px;height:36px;border-radius:50%;background:#222;color:#fff;font-size:17px;line-height:36px;text-align:center">?</div>
</div>

<div class="a" style="left:0;top:1041px;width:1920px;height:10px;background:#1f2628"></div>
</body></html>
